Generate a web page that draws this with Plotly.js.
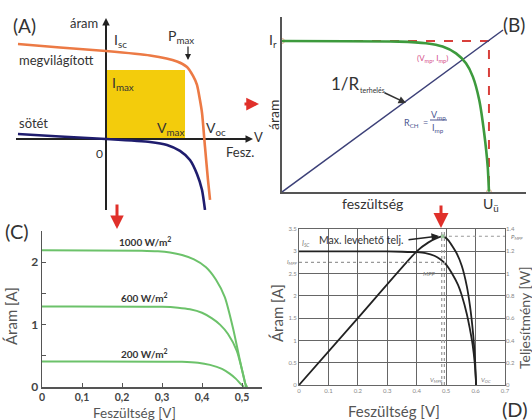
<!DOCTYPE html>
<html><head><meta charset="utf-8">
<script src="https://cdn.plot.ly/plotly-3.0.1.min.js"></script>
<style>html,body{margin:0;padding:0;background:#fff}#chart{width:532px;height:420px}</style>
</head><body><div id="chart"></div>
<script>
// ---------- Panel A (schematic I-V curves) ----------
const aLitV  = [-0.978,-0.511,0,0.489,0.789,0.9,0.967,1.011,1.044,1.067,1.1,1.133,1.156];
const aLitI  = [1.080,1.040,1.0,0.949,0.881,0.818,0.716,0.614,0.443,0.295,-0.091,-0.466,-0.693];
const aDarkV = [-0.978,-0.511,0,0.489,0.678,0.822,0.933,1.011,1.067,1.1];
const aDarkI = [0.057,0.028,0,-0.034,-0.068,-0.136,-0.239,-0.398,-0.580,-0.807];
const aVmax = 0.878, aImax = 0.784;
// ---------- Panel B ----------
const bV = [0,0.565,0.696,0.776,0.841,0.889,0.922,0.953,0.977,0.994,1.0];
const bI = [1.0,0.996,0.985,0.963,0.918,0.852,0.764,0.609,0.389,0.168,0.002];
const bIr = 1, bU0 = 1;
const bLoadV = [0, 1.068], bLoadI = [0, 1.073];
// ---------- Panel C ----------
const cV1000 = [0,0.25,0.29,0.32,0.35,0.38,0.41,0.435,0.457,0.478,0.495,0.508,0.513];
const cI1000 = [2.19,2.185,2.175,2.155,2.115,2.045,1.92,1.72,1.44,0.93,0.42,0.06,0];
const cV600  = [0,0.3,0.34,0.37,0.40,0.425,0.445,0.465,0.487,0.503,0.51];
const cI600  = [1.29,1.285,1.27,1.245,1.19,1.10,1.00,0.85,0.58,0.2,0];
const cV200  = [0,0.35,0.39,0.42,0.45,0.47,0.485,0.495,0.505];
const cI200  = [0.41,0.405,0.39,0.355,0.29,0.21,0.13,0.06,0];
const cXTicks = [0,0.1,0.2,0.3,0.4,0.5];
const cXText  = ['0','0,1','0,2','0,3','0,4','0,5'];
const cYTicks = [0,0.5,1,1.5,2,2.5];
const cYText  = ['0','','1','','2',''];
const cLabels = ['1000 W/m<sup>2</sup>','600 W/m<sup>2</sup>','200 W/m<sup>2</sup>'];
// ---------- Panel D ----------
const dVI = [0,0.25,0.35,0.4,0.43,0.46,0.48,0.5,0.52,0.54,0.555,0.57,0.58,0.59,0.597,0.602];
const dI  = [3.0,3.0,2.99,2.98,2.96,2.9,2.82,2.7,2.5,2.25,1.97,1.6,1.28,0.9,0.5,0];
const dVP = [0,0.2,0.4,0.44,0.47,0.489,0.507,0.536,0.553,0.570,0.581,0.592,0.598,0.602];
const dP  = [0,0.6,1.2,1.28,1.32,1.335,1.30,1.18,1.07,0.89,0.71,0.45,0.24,0];
const dVmpp = 0.489, dImpp = 2.75, dPmpp = 1.335;

const W = 532, H = 420;
const px = v => v / W, py = v => 1 - v / H;
const FONT = 'Lato, "DejaVu Sans", sans-serif';

const traces = [
  {x: aLitV, y: aLitI, xaxis: 'x', yaxis: 'y', mode: 'lines', line: {color: '#ec7a45', width: 2.6, shape: 'spline', smoothing: 0.6}},
  {x: aDarkV, y: aDarkI, xaxis: 'x', yaxis: 'y', mode: 'lines', line: {color: '#1f1d6e', width: 2.6, shape: 'spline', smoothing: 0.6}},
  {x: [0, bU0, bU0], y: [bIr, bIr, 0], xaxis: 'x2', yaxis: 'y2', mode: 'lines+markers',
   line: {color: '#d8403c', width: 2, dash: 'dash'}, marker: {size: [5, 0, 5], color: '#fff', line: {color: '#e49a70', width: 1}}},
  {x: bLoadV, y: bLoadI, xaxis: 'x2', yaxis: 'y2', mode: 'lines', line: {color: '#3c4078', width: 1.5}},
  {x: bV, y: bI, xaxis: 'x2', yaxis: 'y2', mode: 'lines', line: {color: '#3d9a3d', width: 2.6, shape: 'spline', smoothing: 0.6}},
  {x: cV1000, y: cI1000, xaxis: 'x3', yaxis: 'y3', mode: 'lines', line: {color: '#6cc26a', width: 2, shape: 'spline', smoothing: 0.6}},
  {x: cV600, y: cI600, xaxis: 'x3', yaxis: 'y3', mode: 'lines', line: {color: '#6cc26a', width: 2, shape: 'spline', smoothing: 0.6}},
  {x: cV200, y: cI200, xaxis: 'x3', yaxis: 'y3', mode: 'lines', line: {color: '#6cc26a', width: 2, shape: 'spline', smoothing: 0.6}},
  {x: dVI, y: dI, xaxis: 'x4', yaxis: 'y4', mode: 'lines', line: {color: '#222', width: 1.8, shape: 'spline', smoothing: 0.5}},
  {x: dVP, y: dP, xaxis: 'x4', yaxis: 'y5', mode: 'lines', line: {color: '#222', width: 1.8, shape: 'spline', smoothing: 0.5}},
  {x: [dVmpp], y: [dPmpp], xaxis: 'x4', yaxis: 'y5', mode: 'markers', marker: {size: 4, color: '#9c9', line: {width: 0}}}
];

const hidden = {showgrid: false, showticklabels: false, ticks: '', showline: false, fixedrange: true};
const layout = {
  width: W, height: H, margin: {l: 0, r: 0, t: 0, b: 0},
  paper_bgcolor: '#fff', plot_bgcolor: 'rgba(0,0,0,0)', showlegend: false,
  font: {family: FONT, color: '#333'},
  xaxis: Object.assign({}, hidden, {domain: [px(16), px(250)], range: [-1, 1.6], zeroline: true, zerolinecolor: '#222', zerolinewidth: 2, anchor: 'y'}),
  yaxis: Object.assign({}, hidden, {domain: [py(210), py(20)], range: [-0.807, 1.352], zeroline: true, zerolinecolor: '#222', zerolinewidth: 2, anchor: 'x'}),
  xaxis2: Object.assign({}, hidden, {domain: [px(282), px(526)], range: [0, 1.179], zeroline: false, showline: true, linecolor: '#555', linewidth: 1.6, anchor: 'y2'}),
  yaxis2: Object.assign({}, hidden, {domain: [py(192), py(17)], range: [0, 1.159], zeroline: false, showline: true, linecolor: '#555', linewidth: 1.6, anchor: 'x2'}),
  xaxis3: {domain: [px(42), px(262)], range: [0, 0.55], anchor: 'y3', showgrid: false, zeroline: false, showline: true, linecolor: '#555', linewidth: 1.5,
           tickmode: 'array', tickvals: cXTicks, ticktext: cXText, ticks: 'inside', ticklen: 4, tickcolor: '#555',
           tickfont: {size: 10.5, color: '#444', weight: 'bold'}},
  yaxis3: {domain: [py(387), py(231)], range: [0, 2.5], anchor: 'x3', showgrid: false, zeroline: false, showline: true, linecolor: '#555', linewidth: 1.5,
           tickmode: 'array', tickvals: cYTicks, ticktext: cYText, ticks: 'inside', ticklen: 4, tickcolor: '#555',
           tickfont: {size: 12, color: '#444', weight: 'bold'}},
  xaxis4: {domain: [px(299), px(505)], range: [0, 0.7], anchor: 'y4', dtick: 0.1, tick0: 0, showgrid: true, gridcolor: '#666', gridwidth: 1,
           zeroline: false, showline: true, mirror: true, linecolor: '#666', linewidth: 1, ticks: '', tickfont: {size: 6, color: '#888'}},
  yaxis4: {domain: [py(385), py(229)], range: [0, 3.5], anchor: 'x4', dtick: 0.5, tick0: 0, showgrid: true, gridcolor: '#666', gridwidth: 1,
           zeroline: false, showline: true, mirror: true, linecolor: '#666', linewidth: 1, ticks: '', tickfont: {size: 6, color: '#888'}},
  yaxis5: {overlaying: 'y4', side: 'right', anchor: 'x4', range: [0, 1.4], dtick: 0.2, tick0: 0, showgrid: false, zeroline: false,
           showline: false, ticks: '', tickfont: {size: 6, color: '#888'}},
  shapes: [
    {type: 'rect', xref: 'x', yref: 'y', x0: 0, x1: aVmax, y0: 0, y1: aImax, fillcolor: '#f3cc0c', line: {width: 0}, layer: 'below'},
    {type: 'line', xref: 'x4', yref: 'y4', x0: 0, x1: dVmpp, y0: dImpp, y1: dImpp, line: {color: '#999', width: 1.2, dash: 'dot'}},
    {type: 'line', xref: 'x4', yref: 'y4', x0: dVmpp - 0.004, x1: dVmpp - 0.004, y0: 0, y1: 3.5, line: {color: '#999', width: 1.2, dash: 'dot'}},
    {type: 'line', xref: 'x4', yref: 'y4', x0: dVmpp + 0.005, x1: dVmpp + 0.005, y0: 0, y1: 3.5, line: {color: '#999', width: 1.2, dash: 'dot'}},
    {type: 'line', xref: 'x4', yref: 'y5', x0: dVmpp, x1: 0.7, y0: dPmpp, y1: dPmpp, line: {color: '#999', width: 1.2, dash: 'dot'}},
    {type: 'line', xref: 'paper', yref: 'paper', x0: px(430), x1: px(447), y0: py(120), y1: py(120), line: {color: '#4a5590', width: 1}}
  ],
  annotations: []
};

function T(text, x, y, size, opts) {
  layout.annotations.push(Object.assign({text: text, x: px(x), y: py(y), xref: 'paper', yref: 'paper', showarrow: false,
    xanchor: 'center', yanchor: 'middle', font: {size: size, color: '#333', family: FONT}}, opts || {}));
}
function A(x, y, ax, ay, color, width, size) {
  layout.annotations.push({text: '', x: px(x), y: py(y), xref: 'paper', yref: 'paper', showarrow: true, ax: ax, ay: ay,
    arrowhead: 2, arrowwidth: width, arrowsize: size, arrowcolor: color});
}
// Panel A texts
T('(A)', 24, 25, 19);
T('áram', 84, 23, 13);
T('I<sub>sc</sub>', 120, 41, 14);
T('P<sub>max</sub>', 181, 36, 14);
A(188, 60, 0, -15, '#222', 1.2, 1);
T('megvilágított', 56, 60, 13);
T('I<sub>max</sub>', 123, 84, 14);
T('sötét', 33, 123, 13);
T('V<sub>max</sub>', 170, 128, 14);
T('V<sub>oc</sub>', 216, 128, 14);
A(106, 18, 0, 10, '#222', 1.5, 1);
A(253, 139, -10, 0, '#222', 1.5, 1);
T('V', 258, 137, 13);
T('Fesz.', 240, 152, 13);
T('0', 99, 153, 12);
// Panel B texts
T('I<sub>r</sub>', 273, 40, 14);
T('áram', 273, 115, 14, {textangle: -90});
T('feszültség', 372, 203, 14);
T('U<sub>ü</sub>', 491, 204, 14);
T('(B)', 514, 24, 19);
T('(V<sub>mp</sub>, I<sub>mp</sub>)', 432, 59, 8, {font: {size: 8, color: '#d4508a', family: FONT}});
T('1/R', 345, 84, 17);
T('terhelés', 372, 90, 7);
A(406, 103, -23, -11, '#333', 1.5, 1);
T('R<sub>CH</sub>', 411, 123, 9, {font: {size: 9, color: '#4a5590', family: FONT}});
T('=', 425, 122, 9, {font: {size: 9, color: '#4a5590', family: FONT}});
T('V<sub>mp</sub>', 438, 115, 9, {font: {size: 9, color: '#4a5590', family: FONT}});
T('I<sub>mp</sub>', 438, 128, 9, {font: {size: 9, color: '#4a5590', family: FONT}});
// Panel C texts
T('(C)', 17, 231, 20);
T(cLabels[0], 145, 242, 10, {font: {size: 10, color: '#333', family: FONT, weight: 'bold'}});
T(cLabels[1], 144, 297, 10, {font: {size: 10, color: '#333', family: FONT, weight: 'bold'}});
T(cLabels[2], 144, 353, 10, {font: {size: 10, color: '#333', family: FONT, weight: 'bold'}});
T('Áram [A]', 11, 316, 15, {textangle: -90, font: {size: 15, color: '#555', family: FONT}});
T('Feszültség [V]', 134, 413, 13.5, {font: {size: 13.5, color: '#555', family: FONT}});
// Panel D texts
T('Max. levehető telj.', 361, 240, 10.5);
A(439, 236, -32, 4, '#222', 1.5, 1);
T('<i>I<sub>SC</sub></i>', 306, 243, 7, {font: {size: 7, color: '#777', family: FONT}});
T('<i>I<sub>MPP</sub></i>', 292, 262, 6, {font: {size: 6, color: '#777', family: FONT}});
T('<i>MPP</i>', 429, 273, 6, {font: {size: 6, color: '#777', family: FONT}});
T('<i>V<sub>MPP</sub></i>', 436, 380, 6, {font: {size: 6, color: '#777', family: FONT}});
T('<i>V<sub>OC</sub></i>', 486, 380, 6, {font: {size: 6, color: '#777', family: FONT}});
T('<i>P<sub>MPP</sub></i>', 517, 237, 6, {font: {size: 6, color: '#777', family: FONT}});
T('Áram [A]', 277, 313, 15, {textangle: -90, font: {size: 15, color: '#555', family: FONT}});
T('Teljesítmény [W]', 524, 318, 14, {textangle: -90, font: {size: 14, color: '#555', family: FONT}});
T('Feszültség [V]', 394, 411, 15, {font: {size: 15, color: '#555', family: FONT}});
T('(D)', 515, 409, 20);
// Red arrows between panels
A(259, 104, -16, 0, '#e0302a', 3, 0.85);
A(117, 229, 0, -26, '#e0302a', 3, 0.9);
A(441, 228, 0, -24, '#e0302a', 3, 1.0);

Plotly.newPlot('chart', traces, layout, {staticPlot: true, displayModeBar: false});
</script></body></html>
